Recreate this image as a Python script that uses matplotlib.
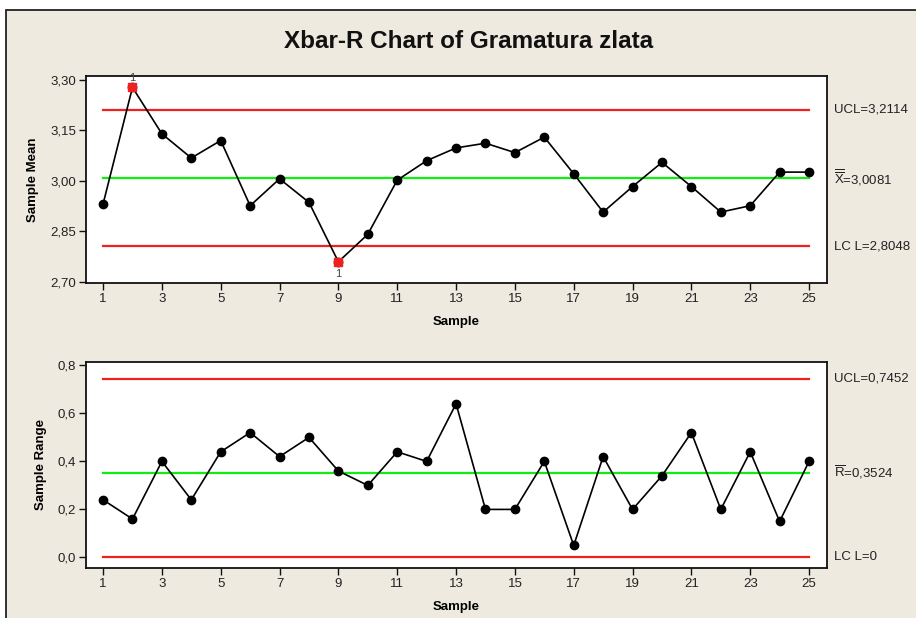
import matplotlib
matplotlib.use("Agg")
import matplotlib.pyplot as plt
from matplotlib.patches import Rectangle
import numpy as np

plt.rcParams['font.family'] = ['Liberation Sans', 'DejaVu Sans']
plt.rcParams['mathtext.fontset'] = 'custom'
plt.rcParams['mathtext.rm'] = 'Liberation Sans'

samples = list(range(1, 26))
xbar = [2.931, 3.278, 3.140, 3.068, 3.120, 2.926, 3.006, 2.936, 2.759, 2.841,
        3.002, 3.060, 3.098, 3.112, 3.084, 3.130, 3.021, 2.907, 2.983, 3.055,
        2.983, 2.907, 2.926, 3.026, 3.026]
ranges = [0.24, 0.16, 0.40, 0.24, 0.44, 0.52, 0.42, 0.50, 0.36, 0.30,
          0.44, 0.40, 0.64, 0.20, 0.20, 0.40, 0.05, 0.42, 0.20, 0.34,
          0.52, 0.20, 0.44, 0.15, 0.40]
xbar_limits = {"UCL": 3.2114, "CL": 3.0081, "LCL": 2.8048}
r_limits = {"UCL": 0.7452, "CL": 0.3524, "LCL": 0.0}
xbar_labels = ["UCL=3,2114", r"$\overline{\overline{\mathrm{X}}}$=3,0081", "LC L=2,8048"]
r_labels = ["UCL=0,7452", r"$\overline{\mathrm{R}}$=0,3524", "LC L=0"]
xbar_ticks = [2.70, 2.85, 3.00, 3.15, 3.30]
xbar_ticklabels = ["2,70", "2,85", "3,00", "3,15", "3,30"]
r_ticks = [0.0, 0.2, 0.4, 0.6, 0.8]
r_ticklabels = ["0,0", "0,2", "0,4", "0,6", "0,8"]
x_ticks = list(range(1, 26, 2))
out_of_control = [2, 9]
title = "Xbar-R Chart of Gramatura zlata"

W, H = 916, 618
fig = plt.figure(figsize=(W / 100, H / 100), dpi=100, facecolor='white')
bg = '#EEEAE0'
fig.patches.append(Rectangle((5.5 / W, -0.01), 1.05, 1 - 10.5 / H + 0.01,
                             transform=fig.transFigure, facecolor=bg,
                             edgecolor='#222222', linewidth=1.3, zorder=-10))

red = '#F02020'
green = '#10EE10'

def px_axes(l, t, r, b):
    return [l / W, 1 - b / H, (r - l) / W, (b - t) / H]

ax1 = fig.add_axes(px_axes(86, 76, 827, 283))
ax2 = fig.add_axes(px_axes(86, 362, 827, 568))

def style(ax, yticks, yticklabels, ylim, ylabel):
    ax.set_facecolor('white')
    ax.set_xlim(0.42, 25.61)
    ax.set_ylim(*ylim)
    ax.set_xticks(x_ticks)
    ax.set_xticklabels([str(v) for v in x_ticks], fontsize=9.5, color='#222222')
    ax.set_yticks(yticks)
    ax.set_yticklabels(yticklabels, fontsize=9.5, color='#222222')
    for s in ax.spines.values():
        s.set_linewidth(1.3)
        s.set_color('#111111')
    ax.tick_params(axis='both', direction='out', length=5, width=1.0, colors='#111111',
                   labelcolor='#222222', pad=2)
    ax.set_xlabel("Sample", fontsize=9.5, fontweight='bold', labelpad=8)
    ax.set_ylabel(ylabel, fontsize=9.5, fontweight='bold', labelpad=8)

def draw(ax, values, limits, labels):
    for key, col in (("UCL", red), ("CL", green), ("LCL", red)):
        ax.plot([samples[0], samples[-1]], [limits[key]] * 2, color=col, lw=1.6, zorder=2)
    ax.plot(samples, values, color='black', lw=1.2, marker='o', markersize=6,
            markerfacecolor='black', markeredgecolor='black', zorder=3)
    for lab, key in zip(labels, ("UCL", "CL", "LCL")):
        ax.annotate(lab, xy=(1.0, limits[key]), xycoords=('axes fraction', 'data'),
                    xytext=(5, 0), textcoords='offset points', ha='left', va='center',
                    fontsize=9.5, color='#222222', annotation_clip=False)

style(ax1, xbar_ticks, xbar_ticklabels, (2.696, 3.312), "Sample Mean")
draw(ax1, xbar, xbar_limits, xbar_labels)
for s in out_of_control:
    v = xbar[s - 1]
    ax1.plot([s], [v], marker='s', markersize=6, color=red, markeredgecolor=red,
             zorder=4, linestyle='none')
    off = 7 if v > xbar_limits["CL"] else -9
    ax1.annotate("1", xy=(s, v), xytext=(0, off), textcoords='offset points',
                 ha='center', va='center', fontsize=8, color='#444444',
                 annotation_clip=False, zorder=5)

style(ax2, r_ticks, r_ticklabels, (-0.044, 0.814), "Sample Range")
draw(ax2, ranges, r_limits, r_labels)

fig.text(469 / W, 1 - 42 / H, title, ha='center', va='center', fontsize=17.5,
         fontweight='bold', color='#111111')

fig.savefig("out.png", dpi=100, facecolor=fig.get_facecolor())
